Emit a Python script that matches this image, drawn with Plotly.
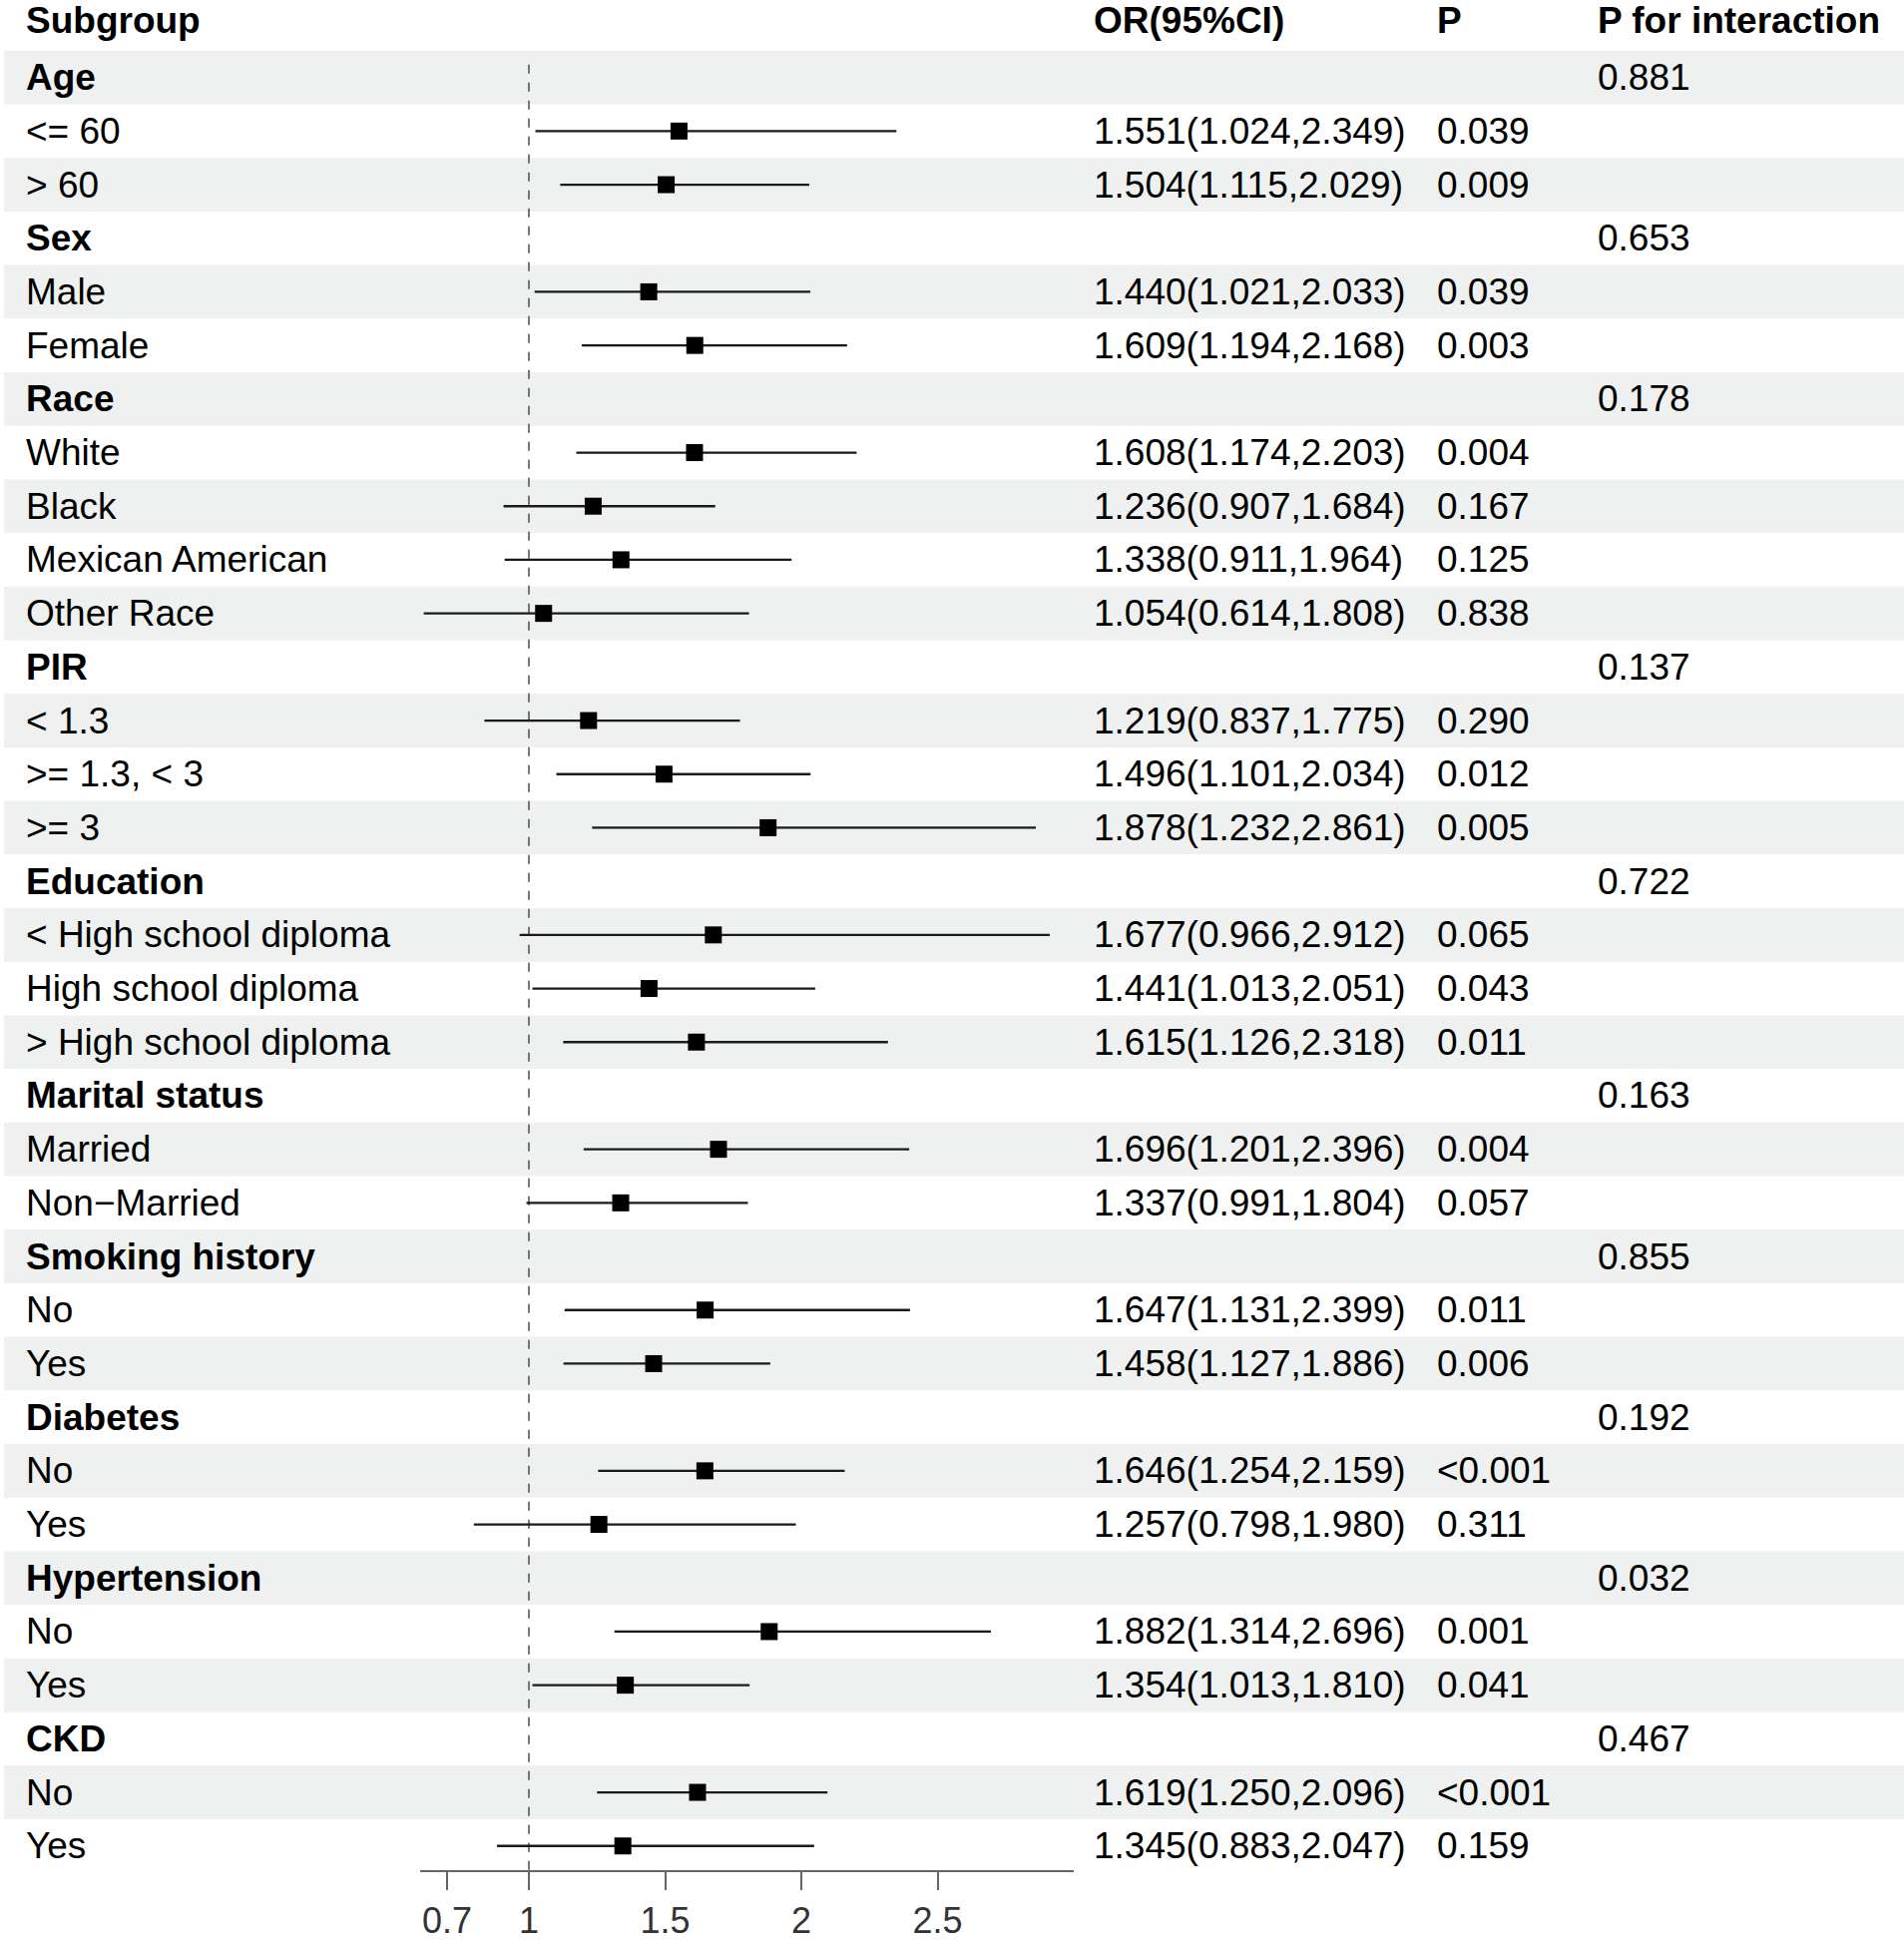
import plotly.graph_objects as go

# ---- data ----
labels = ["Age", "<= 60", "> 60",
          "Sex", "Male", "Female",
          "Race", "White", "Black", "Mexican American", "Other Race",
          "PIR", "< 1.3", ">= 1.3, < 3", ">= 3",
          "Education", "< High school diploma", "High school diploma", "> High school diploma",
          "Marital status", "Married", "Non\u2212Married",
          "Smoking history", "No", "Yes",
          "Diabetes", "No", "Yes",
          "Hypertension", "No", "Yes",
          "CKD", "No", "Yes"]
is_group = [True, False, False,
            True, False, False,
            True, False, False, False, False,
            True, False, False, False,
            True, False, False, False,
            True, False, False,
            True, False, False,
            True, False, False,
            True, False, False,
            True, False, False]
or_est = [None, 1.551, 1.504,
          None, 1.440, 1.609,
          None, 1.608, 1.236, 1.338, 1.054,
          None, 1.219, 1.496, 1.878,
          None, 1.677, 1.441, 1.615,
          None, 1.696, 1.337,
          None, 1.647, 1.458,
          None, 1.646, 1.257,
          None, 1.882, 1.354,
          None, 1.619, 1.345]
ci_low = [None, 1.024, 1.115,
          None, 1.021, 1.194,
          None, 1.174, 0.907, 0.911, 0.614,
          None, 0.837, 1.101, 1.232,
          None, 0.966, 1.013, 1.126,
          None, 1.201, 0.991,
          None, 1.131, 1.127,
          None, 1.254, 0.798,
          None, 1.314, 1.013,
          None, 1.250, 0.883]
ci_high = [None, 2.349, 2.029,
           None, 2.033, 2.168,
           None, 2.203, 1.684, 1.964, 1.808,
           None, 1.775, 2.034, 2.861,
           None, 2.912, 2.051, 2.318,
           None, 2.396, 1.804,
           None, 2.399, 1.886,
           None, 2.159, 1.980,
           None, 2.696, 1.810,
           None, 2.096, 2.047]
p_values = ["", "0.039", "0.009",
            "", "0.039", "0.003",
            "", "0.004", "0.167", "0.125", "0.838",
            "", "0.290", "0.012", "0.005",
            "", "0.065", "0.043", "0.011",
            "", "0.004", "0.057",
            "", "0.011", "0.006",
            "", "<0.001", "0.311",
            "", "0.001", "0.041",
            "", "<0.001", "0.159"]
p_interaction = ["0.881", "", "",
                 "0.653", "", "",
                 "0.178", "", "", "", "",
                 "0.137", "", "", "",
                 "0.722", "", "", "",
                 "0.163", "", "",
                 "0.855", "", "",
                 "0.192", "", "",
                 "0.032", "", "",
                 "0.467", "", ""]
headers = ["Subgroup", "OR(95%CI)", "P", "P for interaction"]
tick_vals = [0.7, 1, 1.5, 2, 2.5]
tick_text = ["0.7", "1", "1.5", "2", "2.5"]
x_range = [0.6, 3.0]
ref_value = 1

# ---- layout geometry (page pixels) ----
W, H = 1908, 1945
row0_px, row_h = 78.0, 53.95
axis_px = 1884
FONT = "Liberation Sans, Arial, sans-serif"
FS = 37
col_x = [24, 1094, 1438, 1599]
n = len(labels)

def py(px):
    return (px - row0_px) / row_h

fig = go.Figure()

# shading bands
shapes = []
for i in range(n):
    if i % 2 == 0:
        shapes.append(dict(type="rect", xref="paper", yref="y", x0=4 / W, x1=1,
                           y0=i - 0.5, y1=i + 0.5, fillcolor="#eef1f0",
                           line=dict(width=0), layer="below"))
# reference dashed line
shapes.append(dict(type="line", xref="x", yref="y", x0=ref_value, x1=ref_value,
                   y0=py(65), y1=py(axis_px), line=dict(color="#555555", width=1.6, dash="dash"),
                   layer="below"))

# CI lines
xs, ys = [], []
for i in range(n):
    if or_est[i] is not None:
        xs += [ci_low[i], ci_high[i], None]
        ys += [i, i, None]
fig.add_trace(go.Scatter(x=xs, y=ys, mode="lines", line=dict(color="#1a1a1a", width=2.3),
                         hoverinfo="skip", showlegend=False))
# point estimates
px_, py_ = [], []
for i in range(n):
    if or_est[i] is not None:
        px_.append(or_est[i]); py_.append(i)
fig.add_trace(go.Scatter(x=px_, y=py_, mode="markers",
                         marker=dict(symbol="square", size=17, color="black"),
                         showlegend=False))

annotations = []
# headers
for h, cx in zip(headers, col_x):
    annotations.append(dict(text="<b>%s</b>" % h, x=cx / W, y=py(21), xref="paper", yref="y",
                            xanchor="left", yanchor="middle", showarrow=False,
                            font=dict(family=FONT, size=FS, color="black")))
for i in range(n):
    lab = "<b>%s</b>" % labels[i] if is_group[i] else labels[i]
    annotations.append(dict(text=lab, x=col_x[0] / W, y=i, xref="paper", yref="y",
                            xanchor="left", yanchor="middle", showarrow=False,
                            font=dict(family=FONT, size=FS, color="black")))
    if or_est[i] is not None:
        txt = "%.3f(%.3f,%.3f)" % (or_est[i], ci_low[i], ci_high[i])
        annotations.append(dict(text=txt, x=col_x[1] / W, y=i, xref="paper", yref="y",
                                xanchor="left", yanchor="middle", showarrow=False,
                                font=dict(family=FONT, size=FS, color="black")))
    if p_values[i]:
        annotations.append(dict(text=p_values[i], x=col_x[2] / W, y=i, xref="paper", yref="y",
                                xanchor="left", yanchor="middle", showarrow=False,
                                font=dict(family=FONT, size=FS, color="black")))
    if p_interaction[i]:
        annotations.append(dict(text=p_interaction[i], x=col_x[3] / W, y=i, xref="paper", yref="y",
                                xanchor="left", yanchor="middle", showarrow=False,
                                font=dict(family=FONT, size=FS, color="black")))

x0_px = 530 - 0.4 * 273
x1_px = 530 + 2.0 * 273
fig.update_layout(
    width=W, height=H,
    margin=dict(l=0, r=0, t=0, b=0),
    paper_bgcolor="white", plot_bgcolor="rgba(0,0,0,0)",
    shapes=shapes, annotations=annotations,
    xaxis=dict(domain=[x0_px / W, x1_px / W], range=x_range, anchor="free",
               position=1 - axis_px / H, showline=True, linecolor="#666666", linewidth=1.6,
               ticks="outside", ticklen=18, tickwidth=1.6, tickcolor="#666666",
               tickvals=tick_vals, ticktext=tick_text, showgrid=False, zeroline=False,
               tickfont=dict(family=FONT, size=36, color="#333333")),
    yaxis=dict(domain=[0, 1], range=[py(H), py(0)], visible=False, showgrid=False,
               zeroline=False),
    font=dict(family=FONT),
)
fig.write_html("out.html", config={"displayModeBar": False},
               post_script="document.body.style.margin='0';document.body.style.overflow='hidden';")
